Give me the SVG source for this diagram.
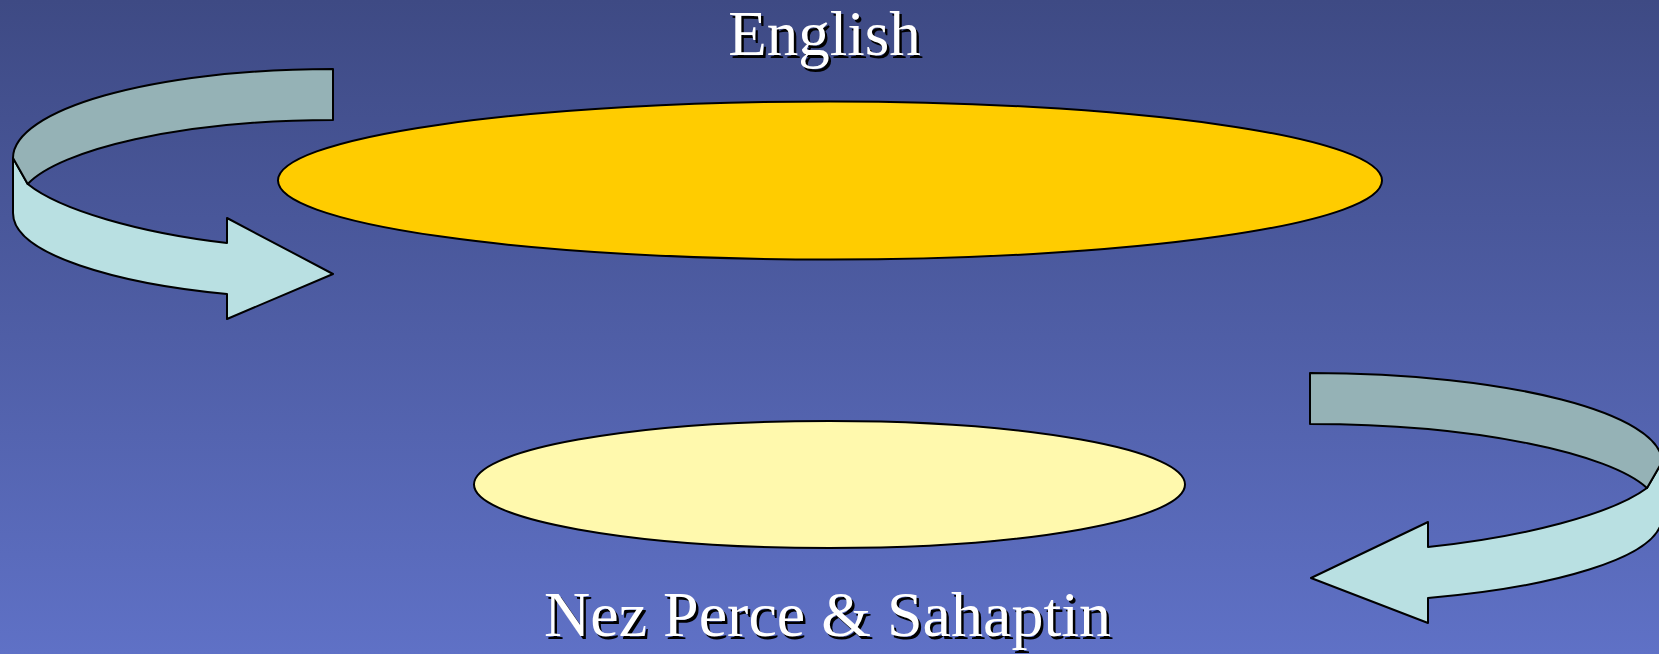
<svg xmlns="http://www.w3.org/2000/svg" width="1659" height="654" viewBox="0 0 1659 654">
  <defs>
    <linearGradient id="bg" x1="0" y1="0" x2="0" y2="1">
      <stop offset="0" stop-color="#3E4A84"/>
      <stop offset="1" stop-color="#5F71C6"/>
    </linearGradient>
  </defs>
  <style>
    .band-top { fill: #95B2B6; stroke: #000; stroke-width: 2; stroke-linejoin: round; }
    .band-bot { fill: #B9E0E2; stroke: #000; stroke-width: 2; stroke-linejoin: round; }
    .node { stroke: #000; stroke-width: 2; }
    .label { font-family: "Liberation Serif", "Times New Roman", serif; font-size: 63px; text-anchor: middle; }
    .big { font-size: 64px; }
    .shadow { fill: #000; }
    .txt { fill: #fff; }
  </style>
  <rect x="0" y="0" width="1659" height="654" fill="url(#bg)"/>

  <g id="connectors">
    <g id="arrow-left">
      <path class="band-bot" d="M13,158 L27.7,184 C60,210 140,233 227,243 L227,218 L333,274 L227,319 L227,294 C120,284 13,255 13,213 Z"/>
      <path class="band-top" d="M333,69 C150,69 13,110 13,158 L27.7,184 C60,150 180,120 333,120 Z"/>
    </g>
    <g id="arrow-right">
      <path class="band-bot" d="M1662,462 L1647,488 C1612,514 1524,537 1428,547 L1428,522 L1311,578 L1428,623 L1428,598 C1546,588 1662,559 1662,517 Z"/>
      <path class="band-top" d="M1310,373 C1511,373 1662,414 1662,462 L1647,488 C1610,454 1478,424 1310,424 Z"/>
    </g>
  </g>

  <g id="node-english">
    <ellipse class="node" cx="830" cy="180.5" rx="552" ry="79" fill="#FFCC00"/>
    <text class="label shadow" x="827" y="58">English</text>
    <text class="label txt" x="824.5" y="55">English</text>
  </g>

  <g id="node-nezperce">
    <ellipse class="node" cx="829.5" cy="484.5" rx="355.5" ry="63.5" fill="#FFF9AD"/>
    <text class="label big shadow" x="830" y="639">Nez Perce &amp; Sahaptin</text>
    <text class="label big txt" x="827.5" y="636">Nez Perce &amp; Sahaptin</text>
  </g>
</svg>
